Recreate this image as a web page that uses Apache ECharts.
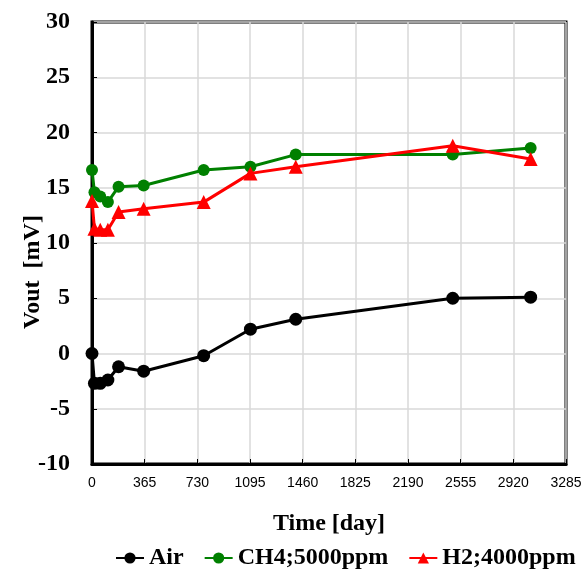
<!DOCTYPE html>
<html><head><meta charset="utf-8">
<script src="https://cdn.jsdelivr.net/npm/echarts@6/dist/echarts.min.js"></script>
<style>html,body{margin:0;padding:0;background:#fff}#c{width:586px;height:576px}</style>
</head><body><div id="c"></div>
<script>
const days = [0, 17, 57, 110, 184, 358, 774, 1098, 1412, 2500, 3040];
const airVals = [0, -2.7, -2.7, -2.4, -1.2, -1.6, -0.2, 2.2, 3.1, 5.0, 5.1];
const ch4Vals = [16.6, 14.6, 14.2, 13.7, 15.1, 15.2, 16.6, 16.9, 18.0, 18.0, 18.6];
const h2Vals = [13.8, 11.3, 11.2, 11.2, 12.8, 13.1, 13.7, 16.3, 16.9, 18.8, 17.6];
const xTicks = [0, 365, 730, 1095, 1460, 1825, 2190, 2555, 2920, 3285];
const yTicks = [-10, -5, 0, 5, 10, 15, 20, 25, 30];

const pair = v => days.map((d, i) => [d, v[i]]);
const serif = '"Liberation Serif", "Times New Roman", serif';
const chart = echarts.init(document.getElementById('c'));
chart.setOption({
  animation: false,
  grid: {left: 92, right: 20, top: 22, bottom: 112, show: true, borderColor: '#000', borderWidth: 3, backgroundColor: '#fff'},
  legend: {
    bottom: 1, left: 110, itemGap: 20, itemWidth: 28, itemHeight: 14,
    textStyle: {fontFamily: serif, fontWeight: 'bold', fontSize: 24, color: '#000'},
    data: ['Air', 'CH4;5000ppm', 'H2;4000ppm']
  },
  xAxis: {
    type: 'value', min: xTicks[0], max: xTicks[xTicks.length - 1], interval: 365,
    name: 'Time [day]', nameLocation: 'middle', nameGap: 48,
    nameTextStyle: {fontFamily: serif, fontWeight: 'bold', fontSize: 24, color: '#000'},
    axisLine: {onZero: false, lineStyle: {color: '#000', width: 3}},
    axisTick: {show: true, inside: true, length: 5, lineStyle: {color: '#000', width: 1}},
    axisLabel: {fontFamily: '"Liberation Sans", Arial, sans-serif', fontSize: 14, color: '#000', margin: 12,
                formatter: v => String(v)},
    splitLine: {lineStyle: {color: '#d9d9d9', width: 1.5}}
  },
  yAxis: {
    type: 'value', min: yTicks[0], max: yTicks[yTicks.length - 1], interval: 5,
    axisLine: {show: true, onZero: false, lineStyle: {color: '#000', width: 3}},
    axisTick: {show: true, inside: true, length: 5, lineStyle: {color: '#000', width: 1}},
    axisLabel: {fontFamily: serif, fontWeight: 'bold', fontSize: 24, color: '#000', margin: 22},
    splitLine: {lineStyle: {color: '#d9d9d9', width: 1.5}}
  },
  graphic: [{
    type: 'text', x: 33, y: 272, rotation: Math.PI / 2,
    style: {text: 'Vout  [mV]', font: 'bold 24px ' + serif, fill: '#000', textAlign: 'center', textVerticalAlign: 'middle'}
  }],
  series: [
    {name: 'Air', type: 'line', data: pair(airVals), symbol: 'circle', symbolSize: 13,
     itemStyle: {color: '#000'}, lineStyle: {color: '#000', width: 3}, z: 3},
    {name: 'CH4;5000ppm', type: 'line', data: pair(ch4Vals), symbol: 'circle', symbolSize: 12,
     itemStyle: {color: '#008000'}, lineStyle: {color: '#008000', width: 3}, z: 2},
    {name: 'H2;4000ppm', type: 'line', data: pair(h2Vals), symbol: 'triangle', symbolSize: 14,
     itemStyle: {color: '#ff0000'}, lineStyle: {color: '#ff0000', width: 3}, z: 4}
  ]
});
</script></body></html>
